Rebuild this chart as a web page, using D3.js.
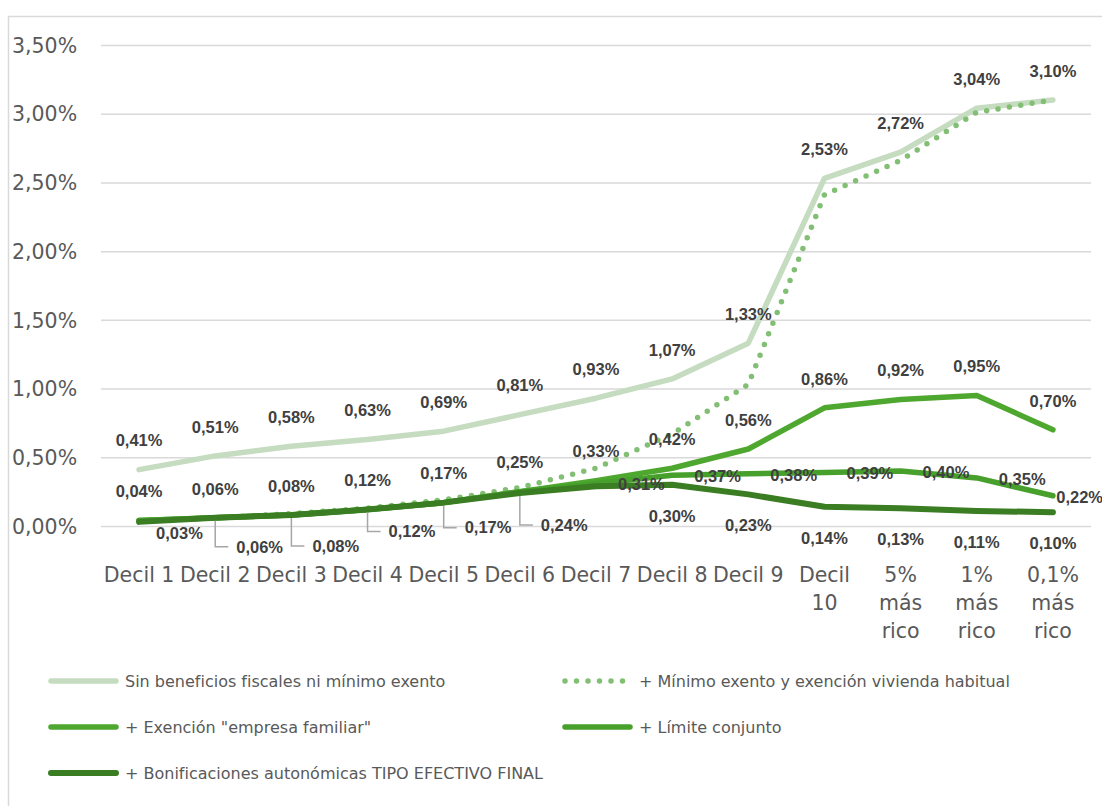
<!DOCTYPE html>
<html lang="es">
<head>
<meta charset="utf-8">
<script src="https://cdn.jsdelivr.net/npm/d3@7/dist/d3.min.js"></script>
<style>
  html, body { margin: 0; padding: 0; background: #ffffff; }
  svg { display: block; }
  .axis-text { font-family: "DejaVu Sans", "Open Sans", sans-serif; fill: #595959; }
  .val { font-family: "Liberation Sans", Arial, sans-serif; font-weight: bold; fill: #404040; }
  .legend-text { font-family: "DejaVu Sans", "Open Sans", sans-serif; fill: #595959; }
</style>
</head>
<body>
<svg id="chart" width="1102" height="806"></svg>
<script>
// Tipo efectivo por grupo de patrimonio (%)
const categories = ["Decil 1", "Decil 2", "Decil 3", "Decil 4", "Decil 5", "Decil 6", "Decil 7",
  "Decil 8", "Decil 9", "Decil 10", "5% más rico", "1% más rico", "0,1% más rico"];

const sinBeneficios   = [0.41, 0.51, 0.58, 0.63, 0.69, 0.81, 0.93, 1.07, 1.33, 2.53, 2.72, 3.04, 3.10];
const minimoExento    = [0.04, 0.06, 0.09, 0.13, 0.19, 0.28, 0.42, 0.67, 1.03, 2.41, 2.66, 3.01, 3.10];
const exencionEmpresa = [0.04, 0.06, 0.08, 0.12, 0.17, 0.25, 0.33, 0.42, 0.56, 0.86, 0.92, 0.95, 0.70];
const limiteConjunto  = [0.04, 0.06, 0.08, 0.12, 0.17, 0.25, 0.31, 0.37, 0.38, 0.39, 0.40, 0.35, 0.22];
const bonificaciones  = [0.03, 0.06, 0.08, 0.12, 0.17, 0.24, 0.29, 0.30, 0.23, 0.14, 0.13, 0.11, 0.10];

const yTicks = [0, 0.5, 1, 1.5, 2, 2.5, 3, 3.5];

const seriesNames = [
  "Sin beneficios fiscales ni mínimo exento",
  "+ Mínimo exento y exención vivienda habitual",
  "+ Exención \"empresa familiar\"",
  "+ Límite conjunto",
  "+ Bonificaciones autonómicas TIPO EFECTIVO FINAL"
];

// Presentation of each series
const series = [
  { name: seriesNames[0], values: sinBeneficios,   color: "#c5dcc0", width: 5.5, dotted: false, labels: "above" },
  { name: seriesNames[1], values: minimoExento,    color: "#82bf74", width: 5.5, dotted: true,  labels: null },
  { name: seriesNames[2], values: exencionEmpresa, color: "#4ea72e", width: 5.5, dotted: false, labels: "above" },
  { name: seriesNames[3], values: limiteConjunto,  color: "#47a02b", width: 5.5, dotted: false, labels: "right", from: 6 },
  { name: seriesNames[4], values: bonificaciones,  color: "#3a7d22", width: 6,   dotted: false, labels: "below" }
];

// Callout drops for the first six final-rate labels (moved below the lines)
const calloutDrop = [11, 29, 31, 22, 25, 32];

const fmt = v => v.toFixed(2).replace(".", ",") + "%";

const svg = d3.select("#chart");
const W = 1102, H = 806;
const plot = { left: 101, right: 1091, top: 45, bottom: 526 };

svg.append("rect").attr("width", W).attr("height", H).attr("fill", "#ffffff");
// chart frame
svg.append("rect")
  .attr("x", 8.5).attr("y", 16.5).attr("width", W + 20).attr("height", H + 20)
  .attr("fill", "none").attr("stroke", "#d9d9d9").attr("stroke-width", 1.5);

const x = d3.scaleBand().domain(categories).range([plot.left, plot.right]).paddingInner(0).paddingOuter(0);
const cx = c => x(c) + x.bandwidth() / 2;
const y = d3.scaleLinear().domain([0, 3.5]).range([plot.bottom, plot.top]);

// gridlines + y labels
const yAxis = d3.axisLeft(y).tickValues(yTicks).tickFormat(fmt)
  .tickSize(-(plot.right - plot.left)).tickPadding(24);
const gy = svg.append("g").attr("transform", `translate(${plot.left},0)`).call(yAxis);
gy.select(".domain").remove();
gy.selectAll(".tick line").attr("stroke", "#d9d9d9").attr("stroke-width", 1.5);
gy.selectAll(".tick text").attr("class", "axis-text").attr("font-size", 20.5)
  .attr("text-anchor", "start").attr("x", -89).attr("dy", "0.35em");

// category labels
const xAxis = d3.axisBottom(x).tickSize(0).tickFormat("");
const gx = svg.append("g").attr("transform", `translate(0,${plot.bottom})`).call(xAxis);
gx.select(".domain").remove();
gx.selectAll(".tick").each(function(c) {
  const words = c.length > 7 ? c.split(" ") : [c];
  const t = d3.select(this).append("text").attr("class", "axis-text").attr("font-size", 20.5)
    .attr("text-anchor", "middle").attr("fill", "#595959");
  words.forEach((w, i) => t.append("tspan").attr("x", 0).attr("y", 56 + i * 28).text(w));
});

// lines
const line = d3.line().x((d, i) => cx(categories[i])).y(d => y(d));
const gLines = svg.append("g");
series.forEach(s => {
  const p = gLines.append("path").datum(s.values)
    .attr("d", line).attr("fill", "none").attr("stroke", s.color)
    .attr("stroke-width", s.width).attr("stroke-linejoin", "round").attr("stroke-linecap", "round");
  if (s.dotted) p.attr("stroke-dasharray", "0 11.5");
});

// data labels
const gLab = svg.append("g");
const addLabel = (tx, ty, text, anchor) => gLab.append("text").attr("class", "val")
  .attr("font-size", 16.5).attr("x", tx).attr("y", ty).attr("dy", "0.35em")
  .attr("text-anchor", anchor).text(text);

series.forEach(s => {
  if (!s.labels) return;
  s.values.forEach((v, i) => {
    const px = cx(categories[i]), py = y(v);
    if (s.labels === "above") {
      addLabel(px, py - 29, fmt(v), "middle");
    } else if (s.labels === "right") {
      if (i < s.from) return;
      const t = addLabel(px + 22, py + 1, fmt(v), "start");
      const w = t.node().getComputedTextLength();
      if (px + 22 + w > W) t.attr("x", W - w + 1);
    } else if (s.labels === "below") {
      if (i === 6) return;
      if (i < calloutDrop.length) {
        const ly = py + calloutDrop[i];
        if (i === 0) {
          addLabel(px + 17, ly, fmt(v), "start");
        } else {
          gLab.append("path")
            .attr("d", `M${px},${py + 3}V${ly}H${px + 13}`)
            .attr("fill", "none").attr("stroke", "#a6a6a6").attr("stroke-width", 1.5);
          addLabel(px + 21, ly, fmt(v), "start");
        }
      } else {
        addLabel(px, py + 31, fmt(v), "middle");
      }
    }
  });
});

// legend
const legendPos = [[48, 681], [562, 681], [48, 727], [562, 727], [48, 773]];
const gLeg = svg.append("g");
series.forEach((s, i) => {
  const [lx, ly] = legendPos[i];
  const seg = gLeg.append("line").attr("x1", lx + 3).attr("x2", lx + 68).attr("y1", ly).attr("y2", ly)
    .attr("stroke", s.color).attr("stroke-width", s.width).attr("stroke-linecap", "round");
  if (s.dotted) seg.attr("stroke-dasharray", "0 11.5");
  gLeg.append("text").attr("class", "legend-text").attr("font-size", 16)
    .attr("x", lx + 77).attr("y", ly).attr("dy", "0.35em").text(s.name);
});
</script>
</body>
</html>
